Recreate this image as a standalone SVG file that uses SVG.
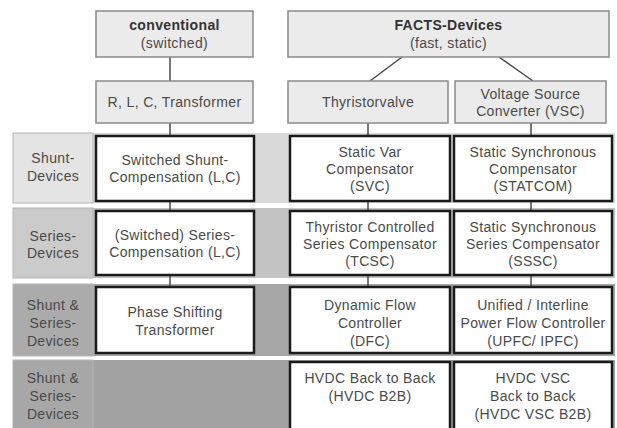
<svg xmlns="http://www.w3.org/2000/svg" width="617" height="428" viewBox="0 0 617 428">
<style>
text{font-family:"Liberation Sans",Arial,sans-serif;font-size:14px;fill:#4a4a4a;text-anchor:middle;letter-spacing:0.35px}
.b{font-weight:bold;fill:#333}
.top{fill:#ebebeb;stroke:#8a8a8a;stroke-width:1.5}
.dev{fill:#ffffff;stroke:#1a1a1a;stroke-width:2.5}
.lab{stroke:#b5b5b5;stroke-width:1}
.con{stroke:#4a4a4a;stroke-width:1.5;fill:none}
</style>
<rect width="617" height="428" fill="#ffffff"/>
<g id="bands">
<rect x="13" y="133" width="602" height="70" fill="#d9d9d9"/>
<rect x="13" y="208" width="602" height="70" fill="#c3c3c3"/>
<rect x="13" y="284" width="602" height="72" fill="#a7a7a7"/>
<rect x="13" y="360" width="602" height="70" fill="#a3a3a3"/>
</g>
<g id="connectors">
<line class="con" x1="170" y1="57" x2="170" y2="81"/>
<line class="con" x1="170" y1="123" x2="170" y2="136"/>
<line class="con" x1="170" y1="201" x2="170" y2="211"/>
<line class="con" x1="170" y1="275" x2="170" y2="287"/>
<line class="con" x1="402" y1="57" x2="370" y2="81"/>
<line class="con" x1="499" y1="57" x2="533" y2="81"/>
<line class="con" x1="368" y1="123" x2="368" y2="136"/>
<line class="con" x1="368" y1="201" x2="368" y2="211"/>
<line class="con" x1="368" y1="275" x2="368" y2="287"/>
<line class="con" x1="531" y1="123" x2="531" y2="136"/>
<line class="con" x1="531" y1="201" x2="531" y2="211"/>
<line class="con" x1="531" y1="275" x2="531" y2="287"/>
</g>
<g id="conventional"><rect class="top" x="96" y="11" width="157" height="46"/><text class="b" x="174.5" y="30">conventional</text><text x="174.5" y="48">(switched)</text></g>
<g id="facts"><rect class="top" x="288" y="11" width="321" height="46"/><text class="b" x="448.5" y="30">FACTS-Devices</text><text x="448.5" y="48">(fast, static)</text></g>
<g id="rlc"><rect class="top" x="96" y="81" width="157" height="42"/><text x="174.5" y="107">R, L, C, Transformer</text></g>
<g id="thyristorvalve"><rect class="top" x="288" y="81" width="160" height="42"/><text x="368" y="107">Thyristorvalve</text></g>
<g id="vsc"><rect class="top" x="455" y="81" width="151" height="42"/><text x="530.5" y="99">Voltage Source</text><text x="530.5" y="116">Converter (VSC)</text></g>
<g id="label-shunt"><rect class="lab" x="13" y="133" width="80" height="70" fill="#e4e4e4"/><text x="53" y="163">Shunt-</text><text x="53" y="181">Devices</text></g>
<g id="label-series"><rect class="lab" x="13" y="208" width="80" height="70" fill="#cbcbcb"/><text x="53" y="241">Series-</text><text x="53" y="258">Devices</text></g>
<g id="label-shuntseries1"><rect class="lab" x="13" y="284" width="80" height="72" fill="#ababab"/><text x="53" y="310">Shunt &amp;</text><text x="53" y="328">Series-</text><text x="53" y="346">Devices</text></g>
<g id="label-shuntseries2"><rect class="lab" x="13" y="360" width="80" height="70" fill="#a7a7a7"/><text x="53" y="383">Shunt &amp;</text><text x="53" y="401">Series-</text><text x="53" y="419">Devices</text></g>
<g id="switched-shunt"><rect class="dev" x="96" y="136" width="158" height="65"/><text x="175" y="165">Switched Shunt-</text><text x="175" y="182">Compensation (L,C)</text></g>
<g id="svc"><rect class="dev" x="290" y="136" width="160" height="65"/><text x="370" y="157">Static Var</text><text x="370" y="174">Compensator</text><text x="370" y="191">(SVC)</text></g>
<g id="statcom"><rect class="dev" x="454" y="136" width="158" height="65"/><text x="533" y="157">Static Synchronous</text><text x="533" y="174">Compensator</text><text x="533" y="191">(STATCOM)</text></g>
<g id="switched-series"><rect class="dev" x="96" y="211" width="158" height="64"/><text x="175" y="240">(Switched) Series-</text><text x="175" y="257">Compensation (L,C)</text></g>
<g id="tcsc"><rect class="dev" x="290" y="211" width="160" height="64"/><text x="370" y="232">Thyristor Controlled</text><text x="370" y="249">Series Compensator</text><text x="370" y="266">(TCSC)</text></g>
<g id="sssc"><rect class="dev" x="454" y="211" width="158" height="64"/><text x="533" y="232">Static Synchronous</text><text x="533" y="249">Series Compensator</text><text x="533" y="266">(SSSC)</text></g>
<g id="pst"><rect class="dev" x="96" y="287" width="158" height="66"/><text x="175" y="317">Phase Shifting</text><text x="175" y="335">Transformer</text></g>
<g id="dfc"><rect class="dev" x="290" y="287" width="160" height="66"/><text x="370" y="310">Dynamic Flow</text><text x="370" y="328">Controller</text><text x="370" y="346">(DFC)</text></g>
<g id="upfc"><rect class="dev" x="454" y="287" width="158" height="66"/><text x="533" y="310">Unified / Interline</text><text x="533" y="328">Power Flow Controller</text><text x="533" y="346">(UPFC/ IPFC)</text></g>
<g id="hvdc-b2b"><rect class="dev" x="290" y="362" width="160" height="80"/><text x="370" y="383">HVDC Back to Back</text><text x="370" y="401">(HVDC B2B)</text></g>
<g id="hvdc-vsc"><rect class="dev" x="454" y="362" width="158" height="80"/><text x="533" y="383">HVDC VSC</text><text x="533" y="401">Back to Back</text><text x="533" y="419">(HVDC VSC B2B)</text></g>
</svg>
